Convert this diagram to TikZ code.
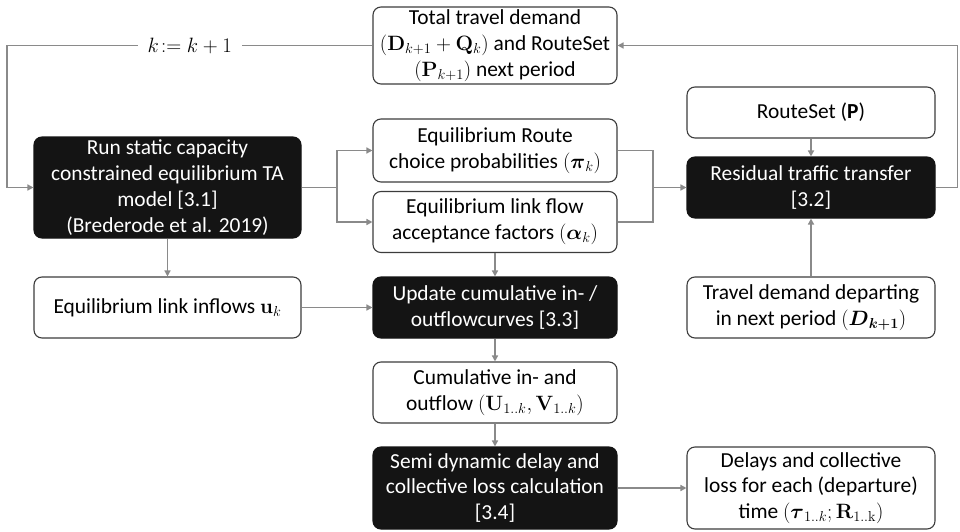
\documentclass[tikz,border=0pt]{standalone}
\usepackage{amsmath}
\usepackage[no-math]{fontspec}
\setmainfont{Carlito}[Scale=1.07]
\usetikzlibrary{arrows.meta}
\definecolor{linegray}{HTML}{8A8A8A}
\definecolor{boxgray}{HTML}{3C3C3C}
\definecolor{boxblack}{HTML}{141414}
\begin{document}
\begin{tikzpicture}[x=1pt,y=-1pt,
    font=\fontsize{20}{25.8}\selectfont,
    whitebox/.style={draw=boxgray, line width=1.1pt, fill=white, rounded corners=8pt,
      align=center, inner sep=2pt},
    blackbox/.style={whitebox, draw=boxblack, fill=boxblack, text=white},
    link/.style={draw=linegray, line width=1.5pt},
    arrow/.style={link, -{Triangle[length=6pt,width=6pt]}}]
  \useasboundingbox (0,0) rectangle (960,532);
  % Linker kolom
  \node[blackbox, minimum width=267pt, minimum height=101pt] (run) at (167.5,187.5)
    {Run static capacity\\ constrained equilibrium TA\\ model [3.1]\\ (Brederode et al. 2019)};
  \node[whitebox, minimum width=267pt, minimum height=61pt] (inflow) at (167.5,307.5)
    {Equilibrium link inflows $\mathbf{u}_k$};
  % Middelste kolom
  \node[whitebox, minimum width=244pt, minimum height=77pt] (total) at (495,45.5)
    {Total travel demand\\ $(\mathbf{D}_{k+1}+\mathbf{Q}_k)$ and RouteSet\\ $(\mathbf{P}_{k+1})$ next period};
  \node[whitebox, minimum width=244pt, minimum height=63pt] (route) at (495,150.5)
    {Equilibrium Route\\ choice probabilities $(\boldsymbol{\pi}_k)$};
  \node[whitebox, minimum width=244pt, minimum height=61pt] (accept) at (495,222)
    {Equilibrium link flow\\ acceptance factors $(\boldsymbol{\alpha}_k)$};
  \node[blackbox, minimum width=244pt, minimum height=61pt] (update) at (495,307.5)
    {Update cumulative in- /\\ outflowcurves [3.3]};
  \node[whitebox, minimum width=244pt, minimum height=61pt] (cumul) at (495,392.5)
    {Cumulative in- and\\ outflow $(\mathbf{U}_{1..k},\mathbf{V}_{1..k})$};
  \node[blackbox, minimum width=244pt, minimum height=82pt] (semi) at (495,488)
    {Semi dynamic delay and\\ collective loss calculation\\{}[3.4]};
  % Rechter kolom
  \node[whitebox, minimum width=248pt, minimum height=51pt] (routeset) at (811,112.5)
    {RouteSet (\textbf{P})};
  \node[blackbox, minimum width=248pt, minimum height=61pt] (resid) at (811,187.5)
    {Residual traffic transfer\\{}[3.2]};
  \node[whitebox, minimum width=248pt, minimum height=61pt] (demand) at (811,307.5)
    {Travel demand departing\\ in next period $(\boldsymbol{D}_{\boldsymbol{k+1}})$};
  \node[whitebox, minimum width=248pt, minimum height=82pt] (delays) at (811,488)
    {Delays and collective\\ loss for each (departure)\\ time $(\boldsymbol{\tau}_{1..k};\mathbf{R}_{1..\mathrm{k}})$};
  % Verbindingen
  \coordinate (split) at (337,187.5);
  \coordinate (join) at (653,187.5);
  \draw[link] (run.east) -- (split);
  \draw[arrow] (split) |- (route.west);
  \draw[arrow] (split) |- (accept.west);
  \draw[link] (route.east) -| (join);
  \draw[link] (accept.east) -| (join);
  \draw[arrow] (join) -- (resid.west);
  \draw[arrow] (routeset) -- (resid);
  \draw[arrow] (demand) -- (resid);
  \draw[arrow] (run) -- (inflow);
  \draw[arrow] (inflow) -- (update);
  \draw[arrow] (accept) -- (update);
  \draw[arrow] (update) -- (cumul);
  \draw[arrow] (cumul) -- (semi);
  \draw[arrow] (semi) -- (delays);
  % Terugkoppeling
  \draw[arrow] (resid.east) -- ++(22,0) |- (total.east);
  \draw[arrow] (total.west) -- node[fill=white, inner xsep=10pt] (next) {$k\!:=k+1$} (7,45.5) |- (run.west);
\end{tikzpicture}
\end{document}
